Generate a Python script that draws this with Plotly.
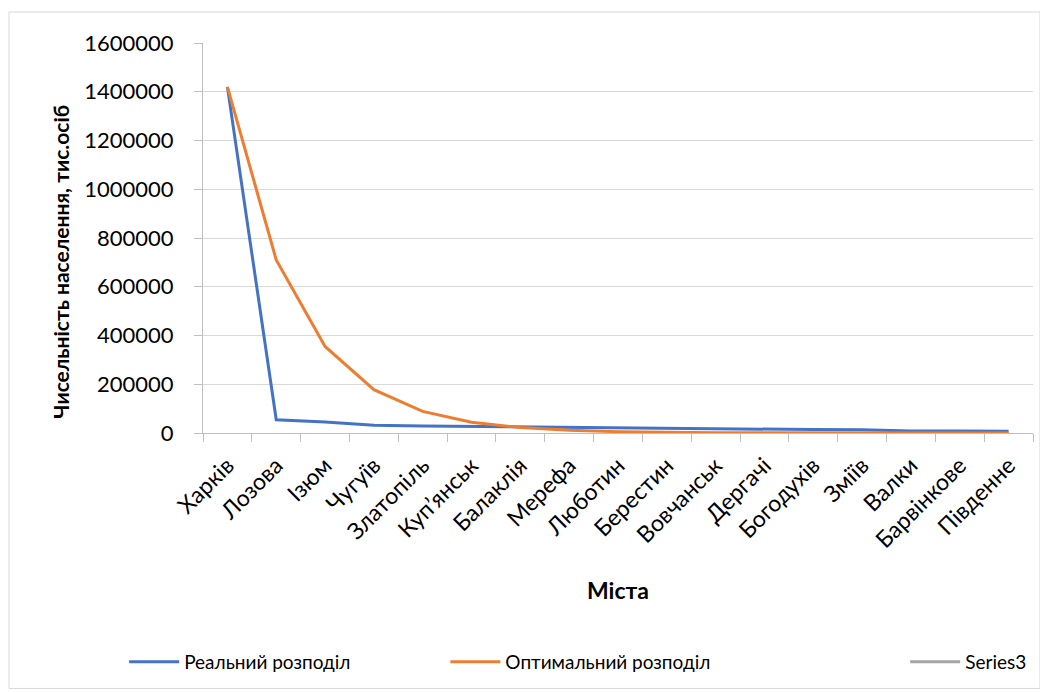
import plotly.graph_objects as go

# ---------- Data ----------
cities = ["Харків", "Лозова", "Ізюм", "Чугуїв", "Златопіль", "Куп’янськ", "Балаклія",
          "Мерефа", "Люботин", "Берестин", "Вовчанськ", "Дергачі", "Богодухів",
          "Зміїв", "Валки", "Барвінкове", "Південне"]

real = [1420000, 54000, 45000, 32000, 29000, 27000, 26000, 21000, 20000,
        19000, 17000, 16000, 14000, 13000, 8000, 8000, 7000]

optimal = [1420000, 710000, 355000, 177500, 88750, 44400, 22200, 11100, 5550,
           2770, 1390, 690, 350, 170, 90, 40, 20]

series3 = [None] * len(cities)

y_ticks = [0, 200000, 400000, 600000, 800000, 1000000, 1200000, 1400000, 1600000]

FONT = "Lato, 'Open Sans', sans-serif"

# page body adds an 8px offset, so the figure is 8px smaller than the window
fig = go.Figure()
fig.add_trace(go.Scatter(x=cities, y=real, mode="lines", name="Реальний розподіл",
                         line=dict(color="#4472C4", width=3), legend="legend"))
fig.add_trace(go.Scatter(x=cities, y=optimal, mode="lines", name="Оптимальний розподіл",
                         line=dict(color="#ED7D31", width=3), legend="legend2"))
fig.add_trace(go.Scatter(x=cities, y=series3, mode="lines", name="Series3",
                         line=dict(color="#A5A5A5", width=3), legend="legend3"))

leg = dict(orientation="h", xanchor="left", y=-0.587, yanchor="middle",
           font=dict(size=19), bgcolor="rgba(0,0,0,0)", itemwidth=50)

fig.update_layout(
    width=1040, height=684,
    margin=dict(l=195, r=15, t=35, b=259, autoexpand=False),
    paper_bgcolor="white", plot_bgcolor="white",
    font=dict(family=FONT, size=19, color="black"),
    showlegend=True,
    legend=dict(leg, x=-0.095),
    legend2=dict(leg, x=0.292),
    legend3=dict(leg, x=0.846),
)

fig.update_xaxes(
    type="category", range=[-0.5, len(cities) - 0.5], automargin=False,
    tickangle=-45, tickson="boundaries", ticklabelstandoff=9,
    ticks="outside", ticklen=8, tickcolor="#BFBFBF",
    showline=True, linecolor="#BFBFBF", linewidth=1,
    showgrid=False, tickfont=dict(size=23),
)
fig.update_yaxes(
    range=[0, 1600000], tickvals=y_ticks, ticktext=[str(v) for v in y_ticks],
    automargin=False,
    ticks="outside", ticklen=8, tickcolor="#BFBFBF", ticklabelstandoff=16,
    showline=True, linecolor="#BFBFBF", linewidth=1,
    showgrid=True, gridcolor="#D9D9D9", gridwidth=1, zeroline=False,
    tickfont=dict(size=22),
)

# Axis titles
fig.add_annotation(text="<b>Чисельність населення, тис.осіб</b>", xref="paper", yref="paper",
                   x=-0.172, y=0.44, xanchor="center", yanchor="middle", textangle=-90,
                   showarrow=False, font=dict(size=21))
fig.add_annotation(text="<b>Міста</b>", xref="paper", yref="paper",
                   x=0.5, y=-0.4026, xanchor="center", yanchor="middle",
                   showarrow=False, font=dict(size=23))

# Chart border
fig.add_shape(type="rect", xref="paper", yref="paper",
              x0=-0.2337, x1=1.0084, y0=-0.655, y1=1.0795,
              line=dict(color="#D9D9D9", width=1), layer="below")

fig.write_html("out.html")
